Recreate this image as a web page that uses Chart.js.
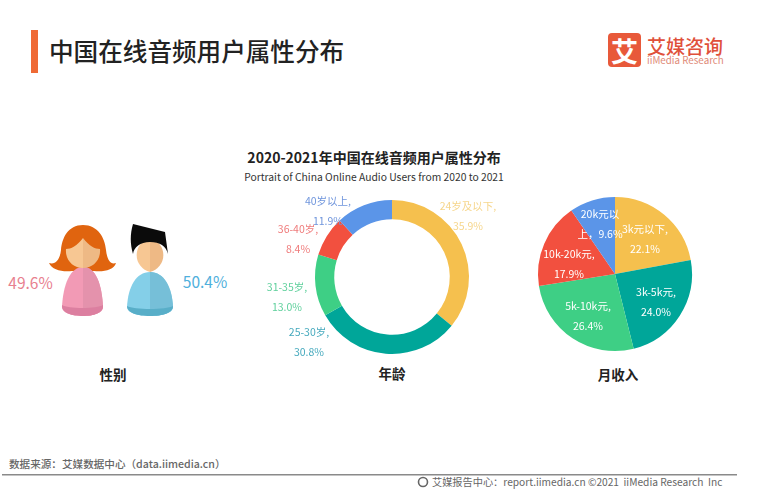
<!DOCTYPE html>
<html lang="zh">
<head>
<meta charset="utf-8">
<script src="https://cdn.jsdelivr.net/npm/chart.js@4/dist/chart.umd.min.js"></script>
<style>
html,body{margin:0;padding:0;background:#fff;width:768px;height:500px;overflow:hidden}
body{position:relative;font-family:"Noto Sans CJK SC","Noto Sans",sans-serif}
.t{position:absolute;white-space:nowrap;line-height:1;transform:translate(-50%,-50%)}
.l{position:absolute;white-space:nowrap;line-height:1;transform:translateY(-50%)}
canvas{position:absolute;display:block}
svg{position:absolute;left:0;top:0}
</style>
</head>
<body>
<svg width="768" height="500" viewBox="0 0 768 500">
  <rect x="31" y="30" width="7" height="43" fill="#ef6a35"/>
  <rect x="608" y="33" width="33" height="34" rx="4" fill="#e8593a"/>
  <rect x="2" y="474" width="735" height="1.5" fill="#8a8a8a"/>
  <!-- woman -->
  <path d="M83 225C68 225 62 238 61 250C60 259 56 265 49 263C52 270 62 272 72 271L94 271C104 272 114 270 116 263C110 265 107 259 106 250C105 238 98 225 83 225Z" fill="#e0640f"/>
  <path d="M62 307C63 285 70 267 83 267C96 267 102 285 103 307C103 313 93 316 83 316C72 316 62 313 62 307Z" fill="#f29ab5"/>
  <path d="M83 267C96 267 102 285 103 307C103 313 93 316 83 316Z" fill="#e492ac"/>
  <path d="M62 305C68 309 97 309 103 305C104 313 93 316 83 316C72 316 61 313 62 305Z" fill="#dc7fa0"/>
  <path d="M83 238C77 246 71 249 66 249C65 260 73 268 83 268Z" fill="#f7c793"/>
  <path d="M83 238C89 246 95 249 100 249C101 260 93 268 83 268Z" fill="#eeb985"/>
  <!-- man -->
  <path d="M127 307C128 287 136 272 150 272C164 272 172 287 173 307C173 313 162 316 150 316C138 316 127 313 127 307Z" fill="#84cfe8"/>
  <path d="M150 272C164 272 172 287 173 307C173 313 162 316 150 316Z" fill="#76bfd8"/>
  <path d="M127 306C134 310 166 310 173 306C173 313 162 316 150 316C138 316 127 313 127 306Z" fill="#58aec8"/>
  <path d="M150 238A17.500 17.500 0 0 0 150 272Z" fill="#f7c793"/>
  <path d="M150 238A17.500 17.500 0 0 1 150 272Z" fill="#eeb985"/>
  <path d="M133 224L165 232L168 254C166 246 160 242 150 242C140 242 134 247 133 254C130 244 130 234 133 224Z" fill="#0b0b0b"/>
  <!-- footer icon -->
  <circle cx="423" cy="482" r="4.500" fill="none" stroke="#666" stroke-width="1.600"/>
</svg>

<div class="l" style="left:49px;top:50px;font-size:24.6px;font-weight:500;color:#222">中国在线音频用户属性分布</div>
<div class="t" style="left:624.500px;top:50px;font-size:27px;font-weight:700;color:#fff">艾</div>
<div class="l" style="left:647px;top:45px;font-size:19px;font-weight:500;color:#e0503a">艾媒咨询</div>
<div class="l" style="left:647px;top:61px;font-size:9.800px;color:#e08a78">iiMedia Research</div>
<div class="t" style="left:374px;top:157px;font-size:14px;font-weight:700;color:#222">2020-2021年中国在线音频用户属性分布</div>
<div class="t" style="left:374px;top:177px;font-size:10.300px;color:#333">Portrait of China Online Audio Users from 2020 to 2021</div>

<div id="female" class="t" style="left:30.500px;top:283px;font-size:15.500px;color:#e8808f"></div>
<div id="male" class="t" style="left:205px;top:282px;font-size:15.500px;color:#4fb0dc"></div>
<div class="t" style="left:113px;top:375px;font-size:13.500px;font-weight:700;color:#222">性别</div>
<div class="t" style="left:392px;top:374px;font-size:13.500px;font-weight:700;color:#222">年龄</div>
<div class="t" style="left:618px;top:375px;font-size:13.500px;font-weight:700;color:#222">月收入</div>

<div class="l" style="left:9px;top:464px;font-size:10.600px;font-weight:500;color:#666">数据来源：艾媒数据中心（data.iimedia.cn）</div>
<div class="l" style="left:432px;top:482px;font-size:10.200px;color:#666">艾媒报告中心：report.iimedia.cn ©2021&nbsp; iiMedia Research&nbsp; Inc</div>

<canvas id="age" width="264" height="200" style="left:260px;top:177px"></canvas>
<canvas id="income" width="170" height="170" style="left:530px;top:189px"></canvas>

<script>
const genderValues = [49.6, 50.4];

const ageCategories = ['24岁及以下', '25-30岁', '31-35岁', '36-40岁', '40岁以上'];
const ageValues = [35.9, 30.8, 13.0, 8.4, 11.9];
const ageColors = ['#f5c04e', '#00a699', '#3ecf85', '#f2503f', '#5b95e8'];
const ageLabelColors = ['#f6d68c', '#45a9bd', '#5fd09c', '#ef7b7b', '#6f95dc'];

const incomeCategories = ['3k元以下', '3k-5k元', '5k-10k元', '10k-20k元', '20k元以上'];
const incomeValues = [22.1, 24.0, 26.4, 17.9, 9.6];
const incomeColors = ['#f5c04e', '#00a699', '#3ecf85', '#f2503f', '#5b95e8'];

// label block centres relative to the pie centre, in pixels
const ageLabelOffsets = [[76,-61],[-83,65],[-105,20],[-94,-38],[-64,-66]];
const incomeLabelOffsets = [[30,-35],[41,28],[-27,42],[-46,-10],[-15,-50]];

const pct = v => v.toFixed(1) + '%';
document.getElementById('female').textContent = pct(genderValues[0]);
document.getElementById('male').textContent = pct(genderValues[1]);

const ageLines = ageCategories.map((c, i) => [c + ',', pct(ageValues[i])]);
const incomeLines = incomeCategories.map((c, i) =>
  i === 4 ? [c.slice(0, -1), c.slice(-1) + '，' + pct(incomeValues[i])] : [c + ',', pct(incomeValues[i])]);

const sliceLabels = {
  id: 'sliceLabels',
  afterDatasetsDraw(chart, args, o) {
    const ctx = chart.ctx;
    const arc = chart.getDatasetMeta(0).data[0];
    ctx.save();
    ctx.font = o.font;
    ctx.textAlign = 'center';
    ctx.textBaseline = 'middle';
    o.lines.forEach((lines, i) => {
      ctx.fillStyle = o.colors[i];
      const x = arc.x + o.offsets[i][0], y = arc.y + o.offsets[i][1];
      lines.forEach((s, k) => ctx.fillText(s, x, y + (k - (lines.length - 1) / 2) * 20));
    });
    ctx.restore();
  }
};

const base = {
  responsive: false,
  animation: false,
  devicePixelRatio: 1,
  rotation: 0
};
const font = '10.5px "Noto Sans CJK SC","Noto Sans",sans-serif';

new Chart(document.getElementById('age'), {
  type: 'doughnut',
  data: { labels: ageCategories, datasets: [{ data: ageValues, backgroundColor: ageColors, borderWidth: 0 }] },
  options: { ...base, cutout: '75%', layout: { padding: 23 },
    plugins: { legend: { display: false }, tooltip: { enabled: false },
      sliceLabels: { lines: ageLines, colors: ageLabelColors, offsets: ageLabelOffsets, font } } },
  plugins: [sliceLabels]
});

new Chart(document.getElementById('income'), {
  type: 'pie',
  data: { labels: incomeCategories, datasets: [{ data: incomeValues, backgroundColor: incomeColors, borderWidth: 0 }] },
  options: { ...base, layout: { padding: 8 },
    plugins: { legend: { display: false }, tooltip: { enabled: false },
      sliceLabels: { lines: incomeLines, colors: ['#fff','#fff','#fff','#fff','#fff'], offsets: incomeLabelOffsets, font } } },
  plugins: [sliceLabels]
});
</script>
</body>
</html>
